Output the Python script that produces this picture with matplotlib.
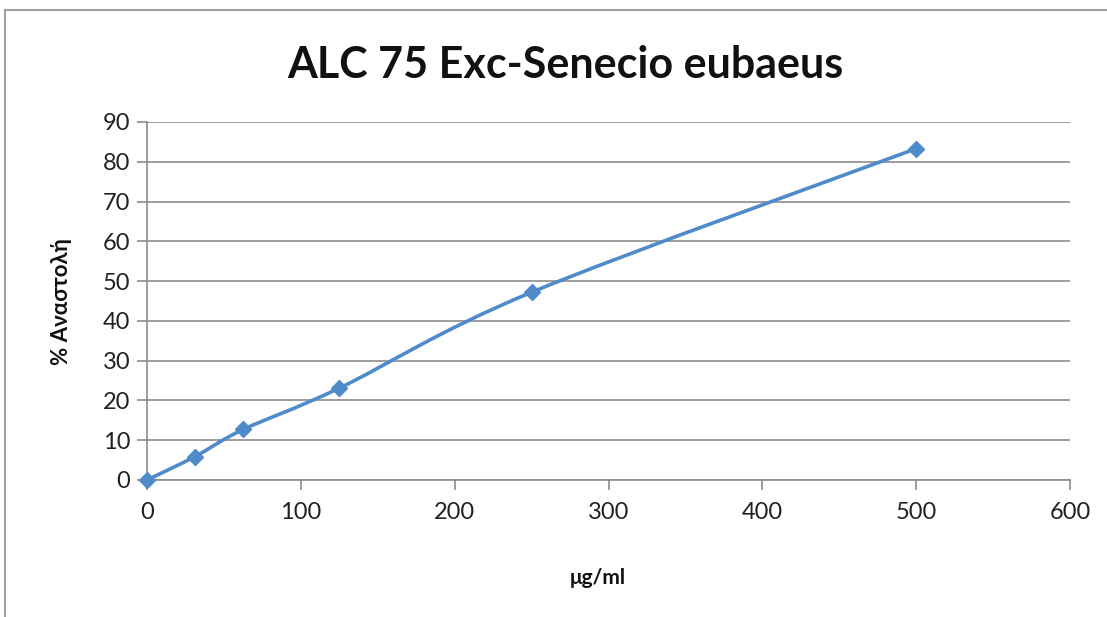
import numpy as np
import matplotlib.pyplot as plt
from matplotlib.path import Path
from matplotlib.patches import PathPatch, Rectangle

plt.rcParams['font.family'] = ['Lato', 'DejaVu Sans']

# data
conc = [0, 31.25, 62.5, 125, 250, 500]
inhibition = [0, 5.9, 12.7, 23.1, 47.2, 83.3]
x_ticks = [0, 100, 200, 300, 400, 500, 600]
y_ticks = [0, 10, 20, 30, 40, 50, 60, 70, 80, 90]

title = "ALC 75 Exc-Senecio eubaeus"
xlabel = "μg/ml"
ylabel = "% Αναστολή"

line_color = '#4F8BCB'
grid_color = '#8C8C8C'

fig = plt.figure(figsize=(11.07, 6.17), dpi=100)
fig.patches.append(Rectangle((5/1107, -0.1), 1.2, 1 - 10/617 + 0.1, transform=fig.transFigure,
                             fill=False, edgecolor='#A0A0A0', linewidth=1.5))
ax = fig.add_axes([147/1107, 137/617, 923/1107, 358/617])

# smoothed line like Excel (Catmull-Rom style Bezier through the points)
pts = np.column_stack([conc, inhibition]).astype(float)
verts = [pts[0]]
codes = [Path.MOVETO]
n = len(pts)
for i in range(n - 1):
    p0 = pts[i - 1] if i > 0 else pts[i]
    p1 = pts[i]
    p2 = pts[i + 1]
    p3 = pts[i + 2] if i + 2 < n else pts[i + 1]
    c1 = p1 + (p2 - p0) / 6
    c2 = p2 - (p3 - p1) / 6
    verts += [c1, c2, p2]
    codes += [Path.CURVE4] * 3
ax.add_patch(PathPatch(Path(verts, codes), fill=False, edgecolor=line_color, linewidth=2.6,
                       zorder=3, clip_on=False))
ax.plot(conc, inhibition, linestyle='none', marker='D', markersize=8, color=line_color,
        zorder=4, clip_on=False)

ax.set_xlim(0, 600)
ax.set_ylim(0, 90)
ax.set_xticks(x_ticks)
ax.set_yticks(y_ticks)
ax.yaxis.grid(True, color=grid_color, linewidth=1.2)
ax.set_axisbelow(True)
for s in ['top', 'right']:
    ax.spines[s].set_visible(False)
for s in ['left', 'bottom']:
    ax.spines[s].set_color(grid_color)
    ax.spines[s].set_linewidth(1.2)
ax.tick_params(axis='both', colors=grid_color, labelcolor='#222222', labelsize=17,
               length=7, width=1.2)
ax.tick_params(axis='x', pad=9)
ax.tick_params(axis='y', pad=5)

fig.text(565/1107, 1 - 65/617, title, ha='center', va='center', fontsize=31,
         fontweight='bold', color='#111111')
fig.text(598/1107, 1 - 578/617, xlabel, ha='center', va='center', fontsize=15,
         fontweight='bold', color='#111111')
fig.text(62/1107, 1 - 302/617, ylabel, ha='center', va='center', fontsize=16,
         fontweight='bold', rotation=90, color='#111111')

fig.savefig('out.png', dpi=100)
